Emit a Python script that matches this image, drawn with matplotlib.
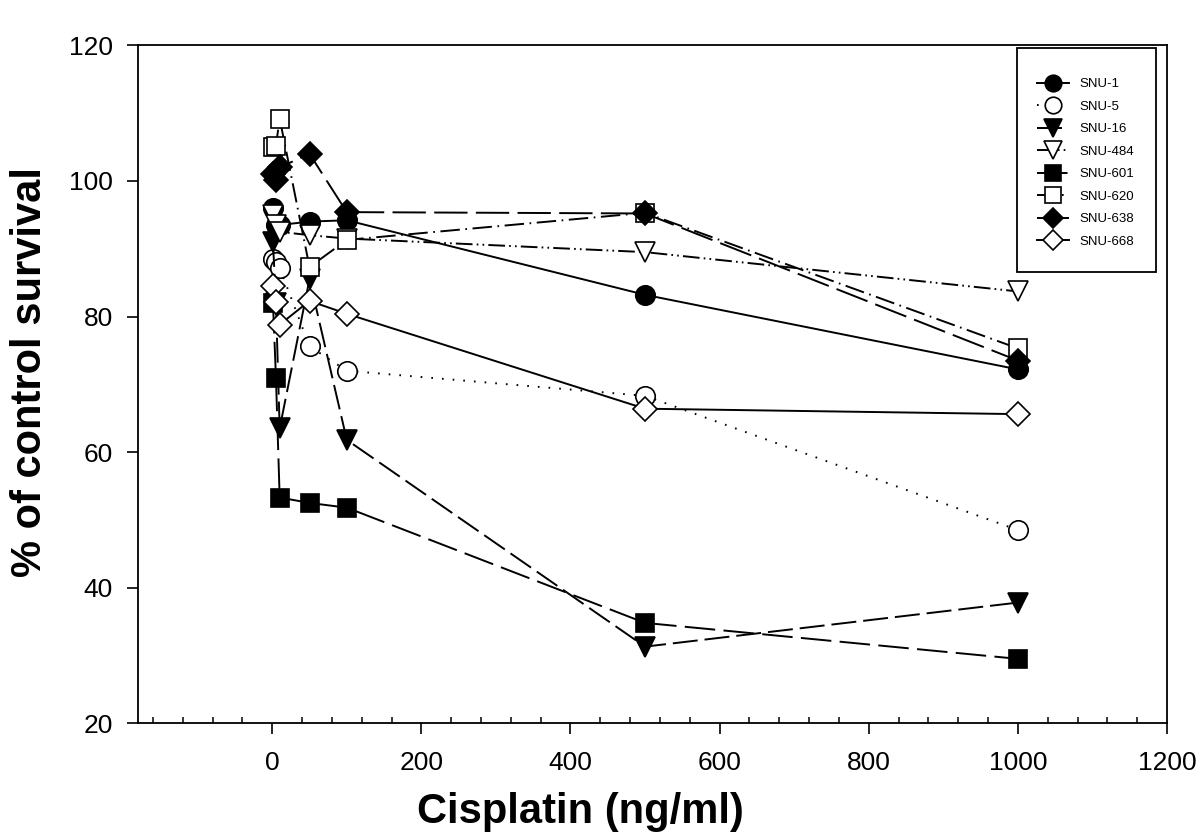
import matplotlib
matplotlib.use("Agg")
import matplotlib.pyplot as plt
from matplotlib.patches import Rectangle
from matplotlib.ticker import MultipleLocator

plt.rcParams["font.family"] = ["Liberation Sans", "DejaVu Sans"]
plt.rcParams["lines.scale_dashes"] = False

# ── data ──────────────────────────────────────────────────────────────────────
dose = [1, 5, 10, 50, 100, 500, 1000]

snu1   = [96.0, 93.5, 93.5, 94.0, 94.2, 83.2, 72.2]
snu5   = [88.5, 88.0, 87.2, 75.6, 72.0, 68.3, 48.5]
snu16  = [91.0, 82.0, 63.5, 85.5, 61.8, 31.3, 37.8]
snu484 = [95.0, 93.5, 92.5, 92.0, 91.5, 89.5, 83.7]
snu601 = [82.0, 71.0, 53.3, 52.5, 51.8, 34.8, 29.5]
snu620 = [105.0, 105.2, 109.2, 87.3, 91.3, 95.3, 75.3]
snu638 = [101.0, 100.2, 102.0, 104.0, 95.4, 95.2, 73.5]
snu668 = [84.5, 82.2, 78.8, 82.3, 80.4, 66.4, 65.6]

labels = ["SNU-1", "SNU-5", "SNU-16", "SNU-484", "SNU-601", "SNU-620", "SNU-638", "SNU-668"]
series = [snu1, snu5, snu16, snu484, snu601, snu620, snu638, snu668]

# (marker, filled, linestyle, markersize)
styles = [
    ("o", True,  "-",                          14),
    ("o", False, (0, (1.2, 6.5)),              14),
    ("v", True,  (0, (18, 5)),                 15),
    ("v", False, (0, (12, 3, 1.2, 3, 1.2, 3)), 15),
    ("s", True,  (0, (22, 6)),                 13),
    ("s", False, (0, (14, 4, 1.2, 4)),         13),
    ("D", True,  (0, (24, 6)),                 12),
    ("D", False, "-",                          12),
]

fig = plt.figure(figsize=(12, 8.4), dpi=100)
ax = fig.add_axes([0.115, 0.139, 0.8575, 0.807])

for y, lab, (mk, filled, ls, ms) in zip(series, labels, styles):
    ax.plot(dose, y, color="black", lw=1.4, linestyle=ls, marker=mk, ms=ms,
            markerfacecolor="black" if filled else "white",
            markeredgecolor="black", markeredgewidth=1.2, label=lab)

ax.set_xlim(-180, 1200)
ax.set_ylim(20, 120)
ax.xaxis.set_major_locator(MultipleLocator(200))
ax.xaxis.set_minor_locator(MultipleLocator(40))
ax.yaxis.set_major_locator(MultipleLocator(20))

ax.tick_params(axis="both", which="major", direction="out", length=8, width=1.2,
               labelsize=19)
ax.tick_params(axis="y", which="major", pad=10)
ax.tick_params(axis="x", which="major", pad=12)
ax.tick_params(axis="x", which="minor", direction="in", length=4, width=1.1)
for sp in ax.spines.values():
    sp.set_linewidth(1.3)

ax.set_xlabel("Cisplatin (ng/ml)", fontsize=30, fontweight="bold")
ax.set_ylabel("% of control survival", fontsize=30, fontweight="bold")
ax.xaxis.set_label_coords(0.43, -0.131)
ax.yaxis.set_label_coords(-0.105, 0.518)
ax.xaxis.label.set_va("center")
ax.yaxis.label.set_va("center")

# legend entries without frame, box drawn separately (padding is uneven)
leg = ax.legend(loc="upper left", bbox_to_anchor=(0.8737, 0.952), borderaxespad=0,
                fontsize=9.5, markerscale=0.85, handlelength=2.4, labelspacing=0.78,
                frameon=False, borderpad=0, handletextpad=0.8)
ax.add_patch(Rectangle((0.8542, 0.6652), 0.1351, 0.3304, transform=ax.transAxes,
                       fill=False, edgecolor="black", lw=1.3, zorder=5))

fig.savefig("out.png", dpi=100)
